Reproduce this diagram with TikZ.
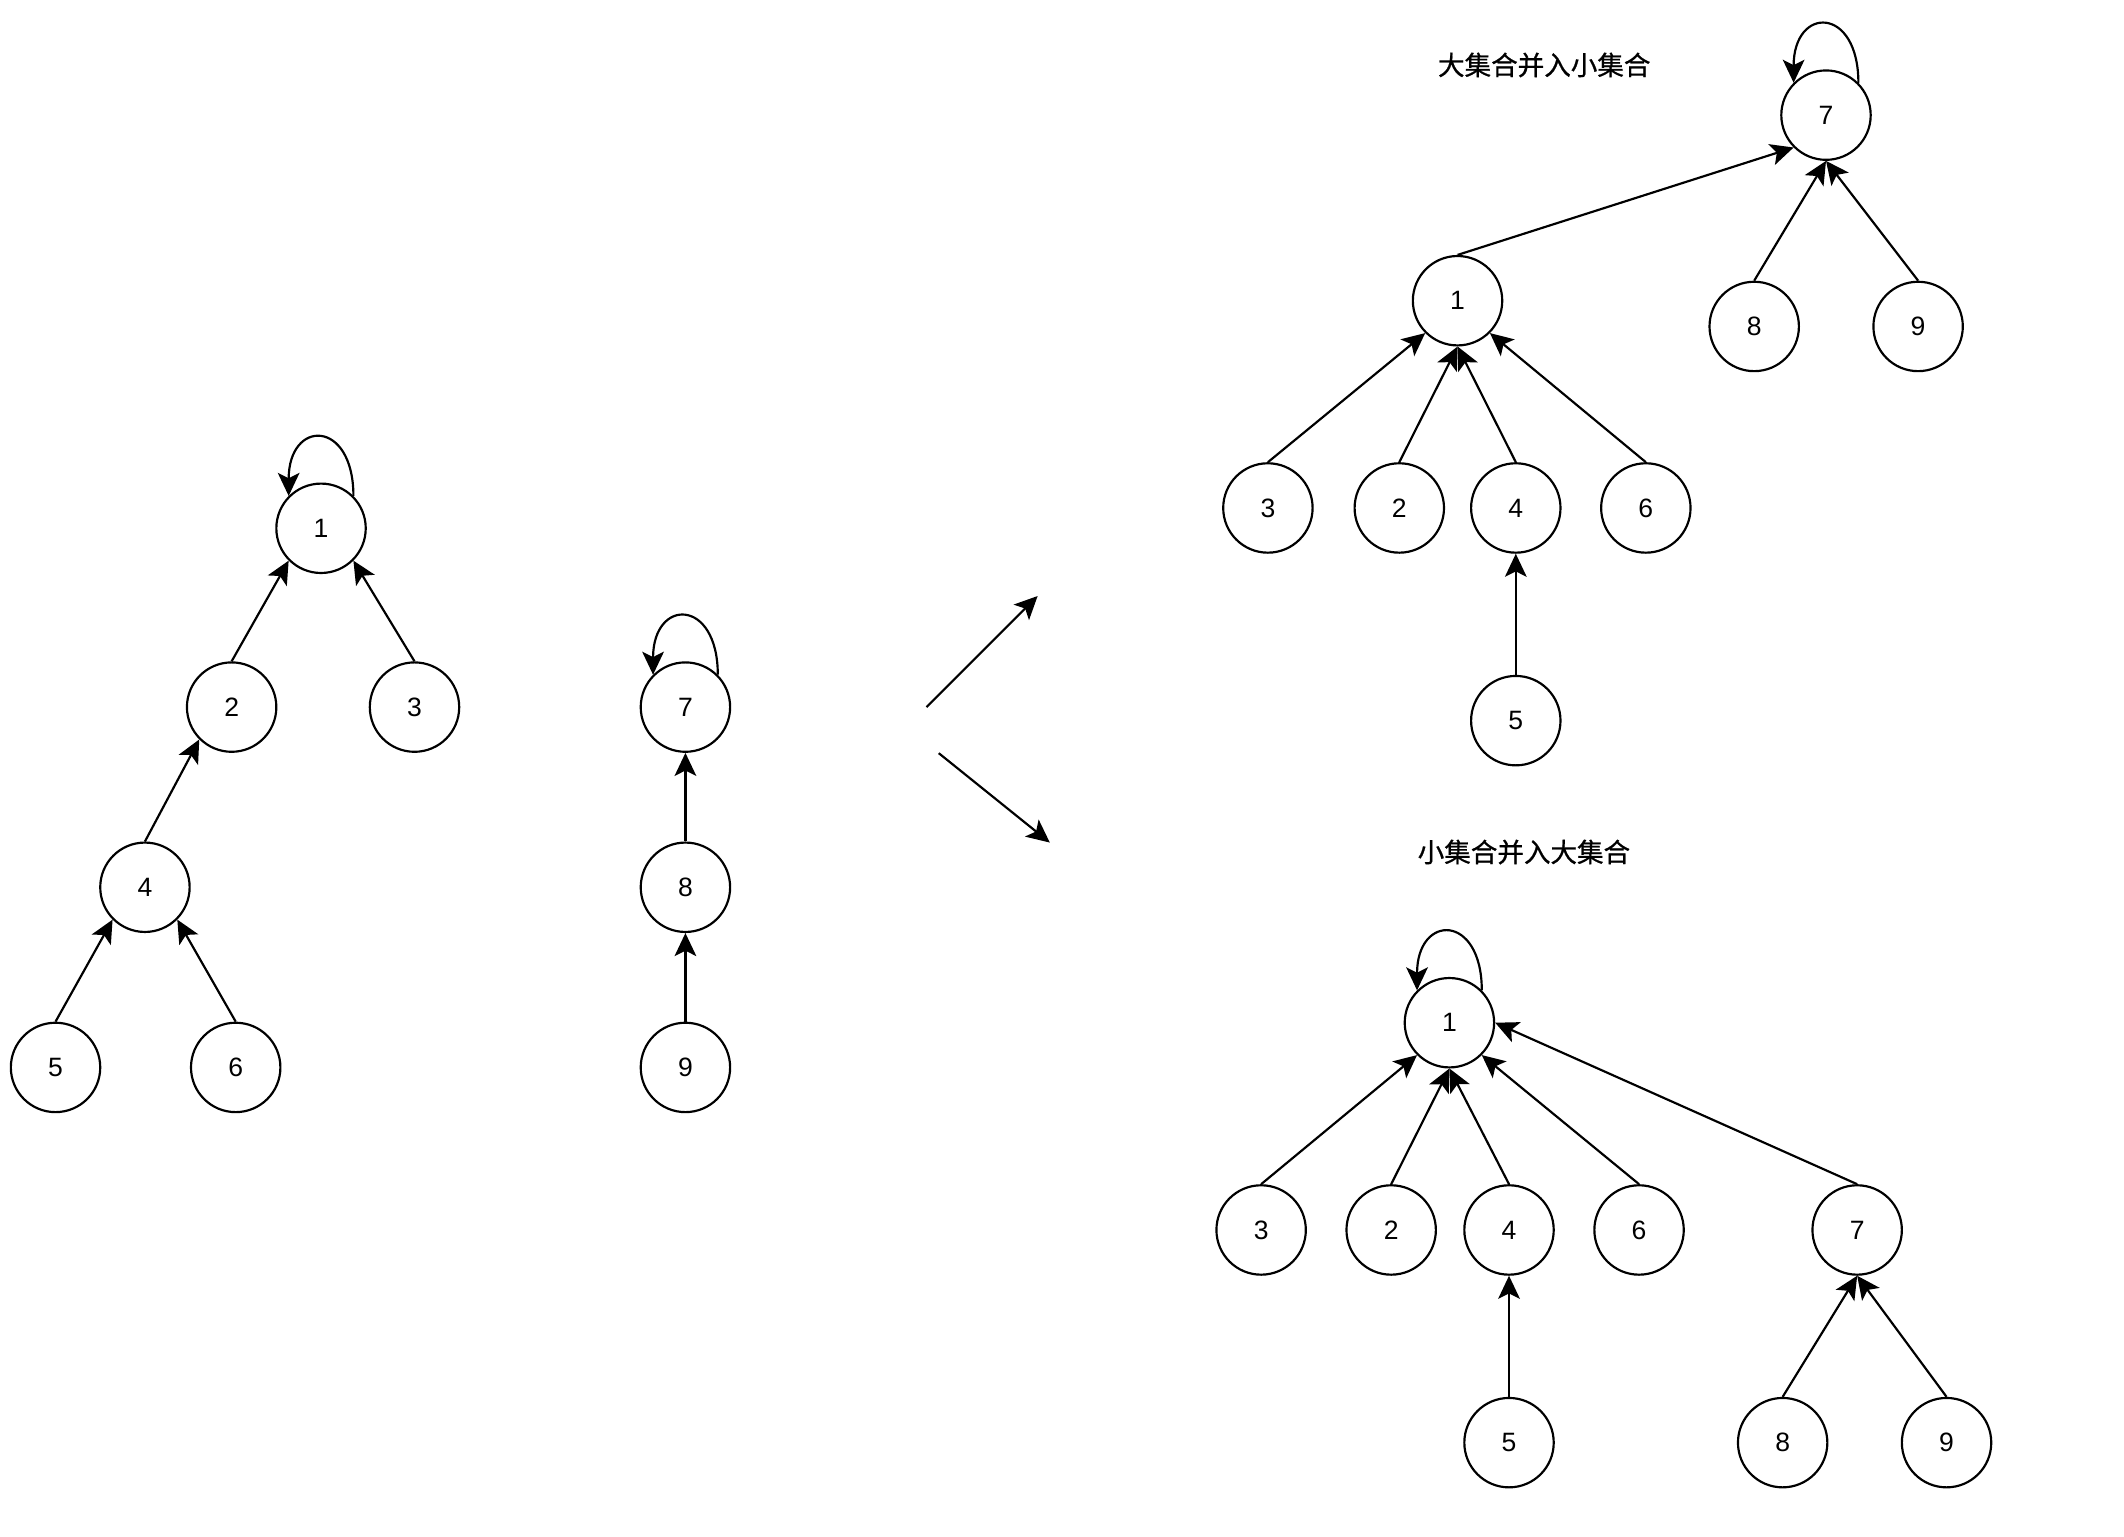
\documentclass[tikz,border=0pt]{standalone}
\usepackage{fontspec}
\setmainfont{Liberation Sans}
\newfontfamily\cjk[FakeBold=0.8]{Noto Sans CJK SC}
\usetikzlibrary{arrows.meta}
\begin{document}
\begin{tikzpicture}[x=0.5pt,y=-0.5pt,
  nd/.style={circle,draw,line width=0.8pt,minimum size=33pt,inner sep=0pt,font=\fontsize{9.8}{11}\selectfont},
  ed/.style={line width=0.8pt,-{Stealth[length=8.5pt,width=8pt,inset=2pt]}},
  lbl/.style={font=\cjk\fontsize{9.8}{11}\selectfont}]
\useasboundingbox (0,0) rectangle (1568,1134);
% left trees
\node[nd] (a1) at (237,390) {1};
\node[nd] (a2) at (171,522) {2};
\node[nd] (a3) at (306,522) {3};
\node[nd] (a4) at (107,655) {4};
\node[nd] (a5) at (41,788) {5};
\node[nd] (a6) at (174,788) {6};
\node[nd] (a7) at (506,522) {7};
\node[nd] (a8) at (506,655) {8};
\node[nd] (a9) at (506,788) {9};
\draw[ed] (a2.north) -- (a1.south west);
\draw[ed] (a3.north) -- (a1.south east);
\draw[ed] (a4.north) -- (a2.south west);
\draw[ed] (a5.north) -- (a4.south west);
\draw[ed] (a6.north) -- (a4.south east);
\draw[ed] (a8.north) -- (a7.south);
\draw[ed] (a9.north) -- (a8.south);
\draw[ed] (a1.45) .. controls +(0,-57) and +(0,-57) .. (a1.135);
\draw[ed] (a7.45) .. controls +(0,-57) and +(0,-57) .. (a7.135);
% middle arrows
\coordinate (m1) at (684,522);
\coordinate (m2) at (766,440);
\coordinate (m3) at (693,556);
\coordinate (m4) at (775,622);
\draw[ed] (m1) -- (m2);
\draw[ed] (m3) -- (m4);
% top right
\node[lbl] (t0) at (1140,48) {大集合并入小集合};
\node[nd] (b7) at (1348,85) {7};
\node[nd] (b1) at (1076,222) {1};
\node[nd] (b8) at (1295,241) {8};
\node[nd] (b9) at (1416,241) {9};
\node[nd] (b3) at (936,375) {3};
\node[nd] (b2) at (1033,375) {2};
\node[nd] (b4) at (1119,375) {4};
\node[nd] (b6) at (1215,375) {6};
\node[nd] (b5) at (1119,532) {5};
\draw[ed] (b7.45) .. controls +(0,-57) and +(0,-57) .. (b7.135);
\draw[ed] (b1.north) -- (b7.south west);
\draw[ed] (b8.north) -- (b7.south);
\draw[ed] (b9.north) -- (b7.south);
\draw[ed] (b3.north) -- (b1.south west);
\draw[ed] (b2.north) -- (b1.south);
\draw[ed] (b4.north) -- (b1.south);
\draw[ed] (b6.north) -- (b1.south east);
\draw[ed] (b5.north) -- (b4.south);
% bottom right
\node[lbl] (u0) at (1125,629) {小集合并入大集合};
\node[nd] (c1) at (1070,755) {1};
\node[nd] (c3) at (931,908) {3};
\node[nd] (c2) at (1027,908) {2};
\node[nd] (c4) at (1114,908) {4};
\node[nd] (c6) at (1210,908) {6};
\node[nd] (c7) at (1371,908) {7};
\node[nd] (c5) at (1114,1065) {5};
\node[nd] (c8) at (1316,1065) {8};
\node[nd] (c9) at (1437,1065) {9};
\draw[ed] (c1.45) .. controls +(0,-57) and +(0,-57) .. (c1.135);
\draw[ed] (c3.north) -- (c1.south west);
\draw[ed] (c2.north) -- (c1.south);
\draw[ed] (c4.north) -- (c1.south);
\draw[ed] (c6.north) -- (c1.south east);
\draw[ed] (c7.north) -- (c1.east);
\draw[ed] (c5.north) -- (c4.south);
\draw[ed] (c8.north) -- (c7.south);
\draw[ed] (c9.north) -- (c7.south);
\end{tikzpicture}
\end{document}
